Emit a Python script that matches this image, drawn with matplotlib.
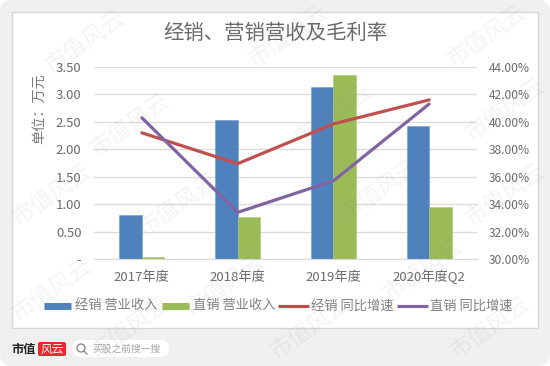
import matplotlib
matplotlib.use('Agg')
import matplotlib.pyplot as plt
import numpy as np
from matplotlib.patches import FancyBboxPatch, Rectangle, Circle
from matplotlib.lines import Line2D

plt.rcParams['font.family'] = ['Noto Sans CJK SC', 'DejaVu Sans']

categories = ['2017年度', '2018年度', '2019年度', '2020年度Q2']
jx_revenue = [0.80, 2.53, 3.13, 2.43]
zx_revenue = [0.03, 0.77, 3.35, 0.95]
jx_growth = [39.2, 36.95, 39.85, 41.6]
zx_growth = [40.3, 33.4, 35.7, 41.3]
left_ticks = [0, 0.5, 1.0, 1.5, 2.0, 2.5, 3.0, 3.5]
left_labels = ['-', '0.50', '1.00', '1.50', '2.00', '2.50', '3.00', '3.50']
right_ticks = [30, 32, 34, 36, 38, 40, 42, 44]
watermarks = [(85, 42), (288, 36), (487, 36), (130, 125), (333, 115), (505, 110),
              (178, 205), (52, 195), (380, 190), (505, 195), (52, 290), (225, 285),
              (423, 270), (130, 328), (310, 328), (490, 328)]

W, H = 550, 366
fig = plt.figure(figsize=(5.5, 3.66), dpi=100, facecolor='white')

def fx(x):
    return x / W

def fy(y):
    return 1 - y / H

# grey card and white panel behind the chart
bg = fig.add_axes([0, 0, 1, 1], zorder=0)
bg.set_xlim(0, W)
bg.set_ylim(H, 0)
bg.axis('off')
bg.add_patch(FancyBboxPatch((0, 0), W, H, boxstyle='round,pad=0,rounding_size=12',
                            fc='#f0f0f0', ec='none'))
bg.add_patch(Rectangle((11.5, 11.5), 526, 316, fc='white', ec='#d6d6d6', lw=1))

ax = fig.add_axes([fx(94), fy(259), (477 - 94) / W, (259 - 67) / H], zorder=2)
ax.patch.set_alpha(0)
x = np.arange(len(categories))
w = 0.235
ax.bar(x - w / 2, jx_revenue, w, color='#4f81bd', edgecolor='#6d9bd0', linewidth=0.4, zorder=2)
ax.bar(x + w / 2, zx_revenue, w, color='#9bbb59', edgecolor='#aec972', linewidth=0.4, zorder=2)
ax.set_xlim(-0.5, 3.5)
ax.set_ylim(0, 3.5)
ax.set_xticks(x)
ax.set_xticklabels(categories, fontsize=9.5, color='#6b6b6b', va='baseline')
ax.set_yticks(left_ticks)
ax.set_yticklabels(left_labels, fontsize=9.5, color='#6b6b6b')
ax.grid(axis='y', color='#dcdcdc', lw=1)
ax.set_axisbelow(True)
ax.tick_params(axis='y', length=0, pad=9)
ax.tick_params(axis='x', length=0, pad=16)
for s in ax.spines.values():
    s.set_visible(False)
ax.spines['bottom'].set_visible(True)
ax.spines['bottom'].set_color('#d9d9d9')

ax2 = ax.twinx()
ax2.patch.set_alpha(0)
ax2.plot(x, jx_growth, color='#c0504d', lw=2.3, solid_capstyle='round')
ax2.plot(x, zx_growth, color='#8064a2', lw=2.3, solid_capstyle='round')
ax2.set_ylim(30, 44)
ax2.set_yticks(right_ticks)
ax2.set_yticklabels([f'{v:.2f}%' for v in right_ticks], fontsize=8.6, color='#6b6b6b')
ax2.tick_params(length=0, pad=8.6)
for s in ax2.spines.values():
    s.set_visible(False)

fig.text(fx(275), fy(33), '经销、营销营收及毛利率', fontsize=14.7, color='#6b6b6b',
         ha='center', va='center', zorder=3)
fig.text(fx(39), fy(109), '单位：万元', fontsize=10.2, color='#7a7a7a', rotation=90,
         ha='center', va='center', zorder=3)

# legend, spaced by hand to sit on one row
legend_y = 306
for x0, x1, col, lw, txt, gap in [(44, 71, '#4f81bd', 5, '经销 营业收入', 4),
                                  (162, 189, '#9bbb59', 5, '直销 营业收入', 4),
                                  (278, 309, '#c0504d', 2.3, '经销 同比增速', 2),
                                  (397, 428, '#8064a2', 2.3, '直销 同比增速', 2)]:
    bg.add_line(Line2D([x0, x1], [legend_y, legend_y], color=col, lw=lw, solid_capstyle='butt'))
    bg.text(x1 + gap, legend_y, txt, fontsize=9.5, color='#808080', va='center', ha='left')

# logo strip
bg.text(11, 349, '市值', fontsize=8.8, fontweight='bold', color='#222222', va='center', ha='left')
bg.add_patch(FancyBboxPatch((38, 342), 28, 14, boxstyle='round,pad=0,rounding_size=2',
                            fc='#f0282d', ec='none'))
bg.text(52, 349, '风云', fontsize=8.5, style='italic', color='white', va='center', ha='center')
bg.add_patch(FancyBboxPatch((72, 340), 97, 17, boxstyle='round,pad=0,rounding_size=8.5',
                            fc='white', ec='none'))
bg.add_patch(Circle((81, 348), 4, fc='none', ec='#8c8c8c', lw=1))
bg.add_line(Line2D([84, 87], [351, 354], color='#8c8c8c', lw=1))
bg.text(92, 349, '买股之前搜一搜', fontsize=7, color='#a6a6a6', va='center', ha='left')

# watermark on top of everything
top = fig.add_axes([0, 0, 1, 1], zorder=5)
top.set_xlim(0, W)
top.set_ylim(H, 0)
top.axis('off')
for wx, wy in watermarks:
    top.text(wx, wy, '市值风云', fontsize=16.5, color='#808080', alpha=0.09, rotation=35,
             ha='center', va='center')

fig.savefig('out.png', dpi=100)
